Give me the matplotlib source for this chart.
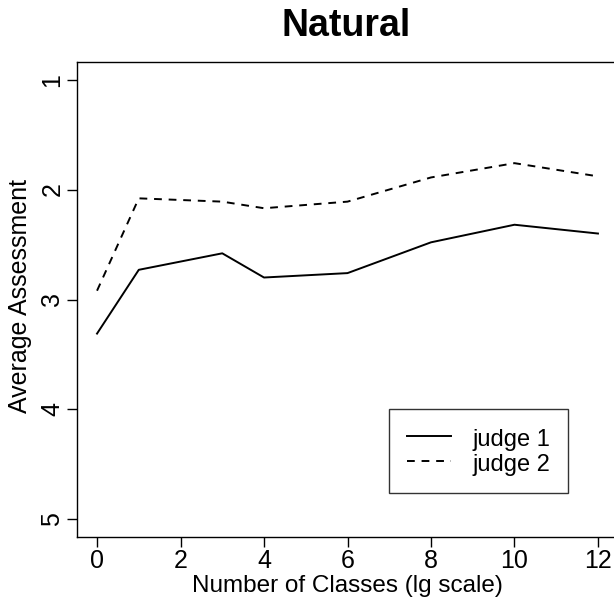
import matplotlib
matplotlib.use("Agg")
from matplotlib import pyplot as plt

plt.rcParams['font.family'] = ['Liberation Sans', 'DejaVu Sans']

# data
classes_lg = [0, 1, 3, 4, 6, 8, 10, 12]
judge1 = [3.31, 2.73, 2.58, 2.80, 2.76, 2.48, 2.32, 2.40]
judge2 = [2.92, 2.08, 2.11, 2.17, 2.11, 1.89, 1.76, 1.88]
x_ticks = [0, 2, 4, 6, 8, 10, 12]
y_ticks = [1, 2, 3, 4, 5]

fig = plt.figure(figsize=(6.14, 6.0), dpi=100)
ax = fig.add_axes([77 / 614, 63 / 600, 541 / 614, 475 / 600])

ax.plot(classes_lg, judge1, color="black", lw=1.4, label="judge 1")
ax.plot(classes_lg, judge2, color="black", lw=1.4, dashes=(4, 3.5), label="judge 2")

ax.set_xlim(-0.48, 12.48)
ax.set_ylim(5.16, 0.84)
ax.set_xticks(x_ticks)
ax.set_yticks(y_ticks)
ax.set_yticklabels([str(v) for v in y_ticks], rotation=90, va="center")
ax.tick_params(direction="out", length=7, width=1, labelsize=18, pad=2)
for s in ax.spines.values():
    s.set_linewidth(1)

# axis labels placed in figure pixels, as in the reference
fig.text(347 / 614, 1 - 586 / 600, "Number of Classes (lg scale)", fontsize=17.5,
         ha="center", va="center")
fig.text(20 / 614, 1 - 296 / 600, "Average Assessment", fontsize=18,
         ha="center", va="center", rotation=90)
fig.text(346 / 614, 1 - 26 / 600, "Natural", fontsize=27, fontweight="bold",
         ha="center", va="center")

leg = ax.legend(loc="upper left", bbox_to_anchor=(312 / 541, 1 - (409 - 62) / 475),
                fontsize=17, frameon=True, fancybox=False, edgecolor="black",
                handlelength=1.86, handletextpad=0.93, borderpad=0.75,
                handleheight=1.12, labelspacing=0.0, borderaxespad=0)
leg.get_frame().set_linewidth(1)

fig.savefig("out.png", dpi=100)
